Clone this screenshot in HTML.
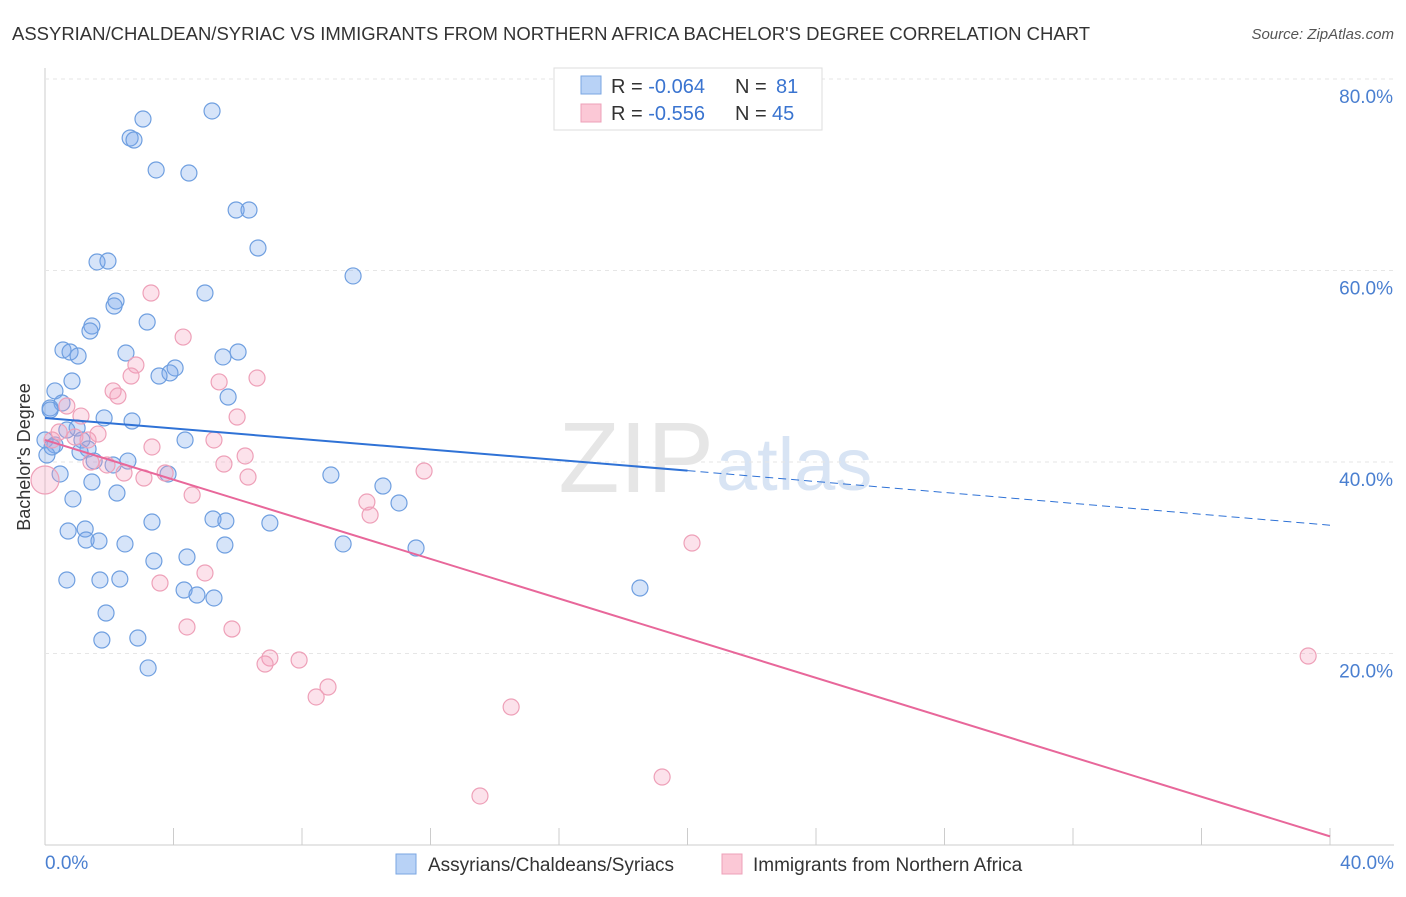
<!DOCTYPE html>
<html><head><meta charset="utf-8"><style>
body{margin:0;background:#fff;font-family:"Liberation Sans",sans-serif;}
svg text{font-family:"Liberation Sans",sans-serif;}
</style></head><body>
<svg id="c" width="1406" height="892">
<text x="12" y="40" font-size="18" fill="#333" textLength="1078" lengthAdjust="spacingAndGlyphs">ASSYRIAN/CHALDEAN/SYRIAC VS IMMIGRANTS FROM NORTHERN AFRICA BACHELOR'S DEGREE CORRELATION CHART</text>
<text x="1394" y="39" font-size="15" fill="#555" font-style="italic" text-anchor="end">Source: ZipAtlas.com</text>
<text x="714" y="492" font-size="100" fill="#e6e6e6" text-anchor="end" font-family="Liberation Serif">ZIP</text>
<text x="716" y="490" font-size="74" fill="#d8e4f4">atlas</text>
<g id="grid"></g>
<g id="pts"></g>
<g id="lines"></g>
<text x="30" y="457" font-size="18" fill="#333" transform="rotate(-90 30 457)" text-anchor="middle">Bachelor's Degree</text>
<text x="45" y="869" font-size="19" fill="#4a7fd0">0.0%</text>
<text x="1394" y="869" font-size="19" fill="#4a7fd0" text-anchor="end">40.0%</text>
<g>
<rect x="554" y="68" width="268" height="62" fill="#fff" stroke="#ddd"/>
<rect x="581" y="76" width="20" height="18" fill="#b8d2f6" stroke="#7aa6e2"/>
<rect x="581" y="104" width="20" height="18" fill="#fbc8d6" stroke="#eea0b8"/>
<text x="611" y="93" font-size="20" fill="#333">R = <tspan fill="#3a74d0">-0.064</tspan><tspan x="735">N = </tspan><tspan x="776" fill="#3a74d0">81</tspan></text>
<text x="611" y="120" font-size="20" fill="#333">R = <tspan fill="#3a74d0">-0.556</tspan><tspan x="735">N = </tspan><tspan x="772" fill="#3a74d0">45</tspan></text>
</g>
<g><rect x="396" y="854" width="20" height="20" fill="#b8d2f6" stroke="#7aa6e2"/><text x="428" y="871" font-size="19" fill="#333">Assyrians/Chaldeans/Syriacs</text></g>
<g><rect x="722" y="854" width="20" height="20" fill="#fbc8d6" stroke="#eea0b8"/><text x="753" y="871" font-size="19" fill="#333">Immigrants from Northern Africa</text></g>
</svg>
<script>
const yTicks=[20,40,60,80];
const xTicks=[0,4,8,12,16,20,24,28,32,36,40];
const bluePx=[[212,111],[143,119],[130,138],[134,140],[156,170],[189,173],[236,210],[249,210],[258,248],[97,262],[108,261],[353,276],[205,293],[116,301],[114,306],[147,322],[92,326],[90,331],[63,350],[70,352],[78,356],[126,353],[238,352],[223,357],[175,368],[170,373],[159,376],[72,381],[55,391],[228,397],[62,403],[50,408],[104,418],[132,421],[77,428],[67,430],[45,440],[185,440],[55,445],[82,440],[88,449],[80,452],[94,461],[128,461],[113,465],[168,474],[331,475],[60,474],[383,486],[92,482],[117,493],[73,499],[399,503],[152,522],[213,519],[226,521],[270,523],[68,531],[85,529],[86,540],[99,541],[125,544],[225,545],[343,544],[416,548],[154,561],[187,557],[67,580],[100,580],[120,579],[184,590],[197,595],[214,598],[640,588],[106,613],[138,638],[102,640],[148,668],[50,410],[47,455],[52,447]];
const pinkPx=[[151,293],[183,337],[136,365],[131,376],[219,382],[257,378],[113,391],[118,396],[81,416],[67,406],[237,417],[59,432],[98,434],[88,440],[152,447],[214,440],[245,456],[91,462],[107,465],[124,473],[224,464],[144,478],[248,477],[424,471],[192,495],[367,502],[370,515],[692,543],[160,583],[205,573],[187,627],[232,629],[270,658],[265,664],[299,660],[328,687],[316,697],[511,707],[662,777],[480,796],[1308,656],[45,480],[52,440],[75,437],[165,473]];
const blueX=bluePx.map(p=>+((p[0]-45)/1285*40).toFixed(2));
const blueY=bluePx.map(p=>+((845-p[1])/191.5*20).toFixed(2));
const pinkX=pinkPx.map(p=>+((p[0]-45)/1285*40).toFixed(2));
const pinkY=pinkPx.map(p=>+((845-p[1])/191.5*20).toFixed(2));
const blueTrend=[[0,44.6],[20,39.1],[40,33.4]];
const pinkTrend=[[0,42.3],[40,0.9]];
const X=v=>45+v/40*1285, Y=v=>845-v/20*191.5;
const NS='http://www.w3.org/2000/svg';
function mk(t,a,p){const e=document.createElementNS(NS,t);for(const k in a)e.setAttribute(k,a[k]);p.appendChild(e);return e;}
const g=document.getElementById('grid');
const ax=mk('line',{x1:45,y1:68,x2:45,y2:845,stroke:'#ccc'},g);

const xa=mk('line',{x1:45,y1:845,x2:1394,y2:845,stroke:'#ccc'},g);

yTicks.forEach(t=>{const l=mk('line',{x1:45,y1:Y(t),x2:1394,y2:Y(t),stroke:'#e6e6e6','stroke-dasharray':'4 4'},g);

const tx=mk('text',{x:1393,y:Y(t)+24,'font-size':19,fill:'#4a7fd0','text-anchor':'end'},g);tx.textContent=t.toFixed(1)+'%';
});
xTicks.forEach(t=>{const l=mk('line',{x1:X(t),y1:828,x2:X(t),y2:845,stroke:'#ccc'},g);
});
const pg=document.getElementById('pts');
blueX.forEach((x,i)=>{const c=mk('circle',{cx:X(x),cy:Y(blueY[i]),r:8,fill:'rgba(120,165,235,0.3)',stroke:'#6f9fe0','stroke-width':1.2},pg);
});
pinkX.forEach((x,i)=>{const c=mk('circle',{cx:X(x),cy:Y(pinkY[i]),r:(i===41?14:8),fill:'rgba(245,160,190,0.3)',stroke:'#eea0b8','stroke-width':1.2},pg);
});
const lg=document.getElementById('lines');
const b1=mk('line',{x1:X(blueTrend[0][0]),y1:Y(blueTrend[0][1]),x2:X(blueTrend[1][0]),y2:Y(blueTrend[1][1]),stroke:'#2f72d6','stroke-width':2},lg);

const b2=mk('line',{x1:X(blueTrend[1][0]),y1:Y(blueTrend[1][1]),x2:X(blueTrend[2][0]),y2:Y(blueTrend[2][1]),stroke:'#2f72d6','stroke-width':1,'stroke-dasharray':'8 5'},lg);

const p1=mk('line',{x1:X(pinkTrend[0][0]),y1:Y(pinkTrend[0][1]),x2:X(pinkTrend[1][0]),y2:Y(pinkTrend[1][1]),stroke:'#e8679a','stroke-width':2},lg);

</script>
</body></html>
